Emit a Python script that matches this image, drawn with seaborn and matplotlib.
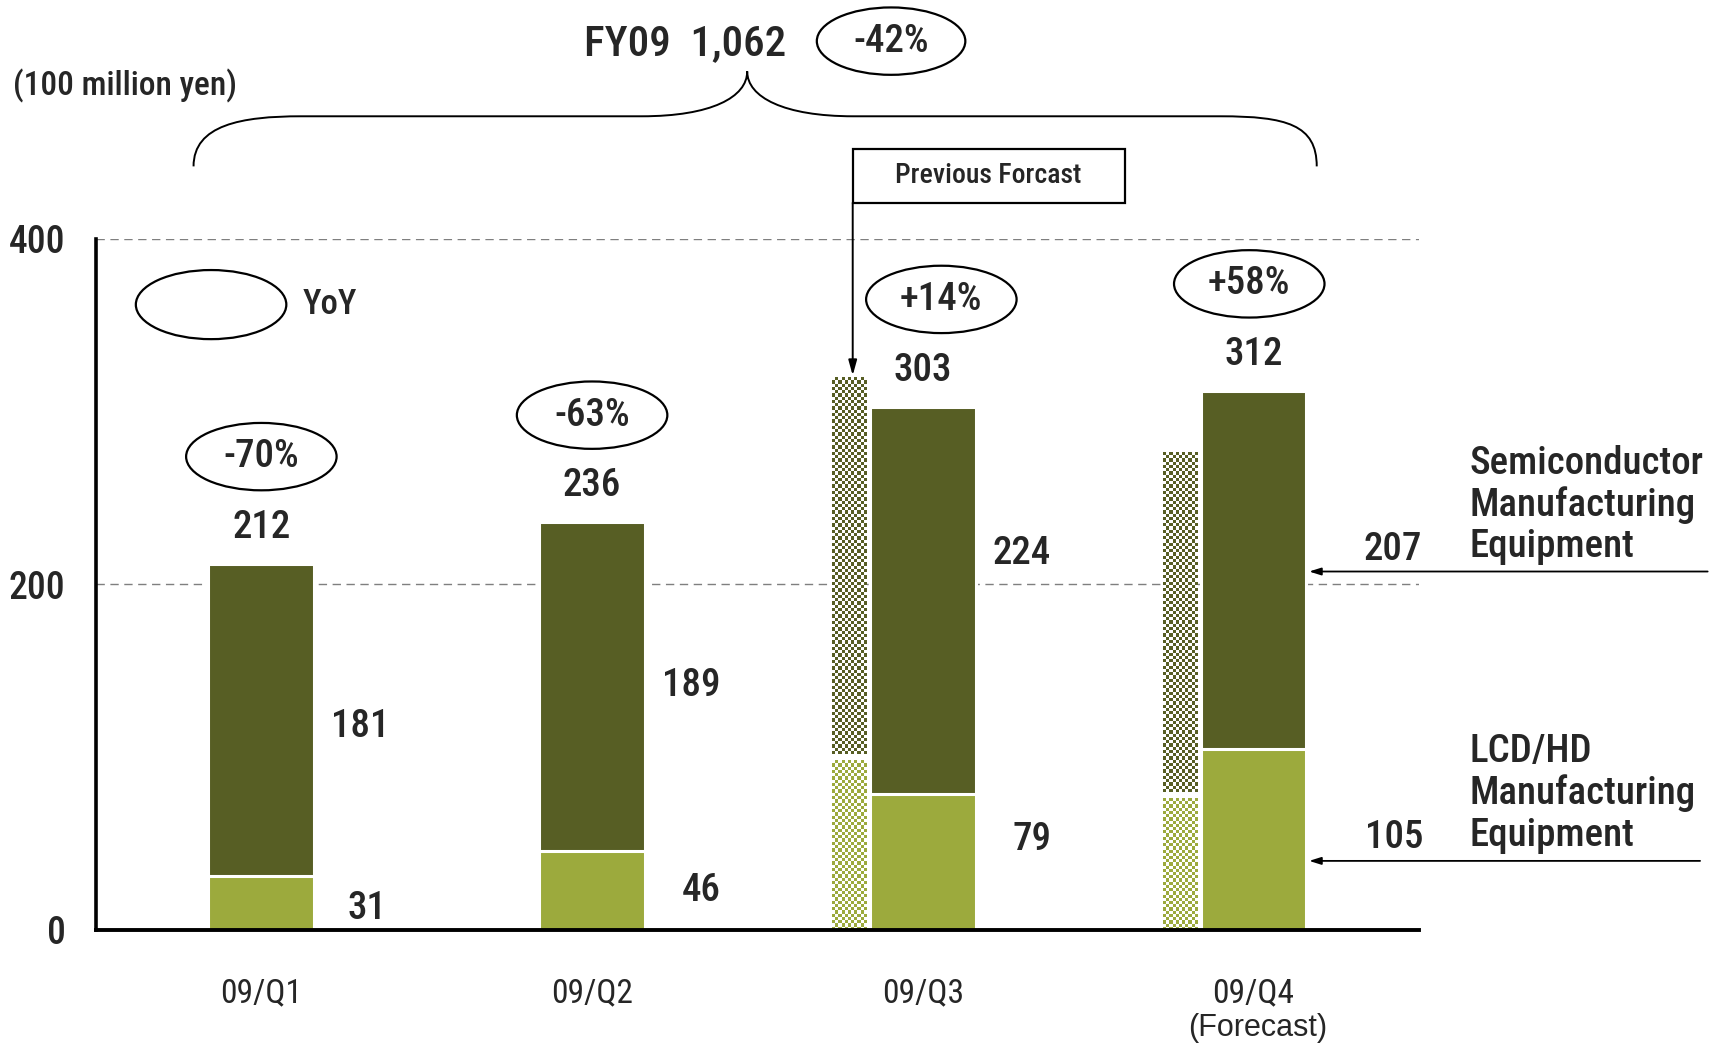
import numpy as np
import matplotlib
matplotlib.use("Agg")
import matplotlib.pyplot as plt
import seaborn as sns
from matplotlib.patches import Ellipse, Rectangle, PathPatch
from matplotlib.path import Path

# ---------------- data ----------------
quarters = ["09/Q1", "09/Q2", "09/Q3", "09/Q4"]
semi = [181, 189, 224, 207]
lcd = [31, 46, 79, 105]
totals = [212, 236, 303, 312]
yoy = ["-70%", "-63%", "+14%", "+58%"]
prev_idx = [2, 3]
prev_semi = [221, 200]
prev_lcd = [100, 78]
fy_total = "1,062"
fy_yoy = "-42%"
yticks = [0, 200, 400]

# ---------------- style ----------------
sns.set_style("white")
NARROW = ["Roboto Condensed", "PT Sans Narrow", "Archivo Narrow", "DejaVu Sans"]
plt.rcParams["font.family"] = NARROW
plt.rcParams["font.weight"] = 500
DARK = "#575E24"
LIGHT = "#9CAA3D"

fig = plt.figure(figsize=(17.11, 10.48), dpi=100)
ax = fig.add_axes([0.0561, 0.1126, 0.7732, 0.6594])

# main stacked bars
sns.barplot(x=quarters, y=totals, color=DARK, saturation=1, width=0.32,
            edgecolor="white", linewidth=2.2, ax=ax, zorder=2)
sns.barplot(x=quarters, y=lcd, color=LIGHT, saturation=1, width=0.32,
            edgecolor="white", linewidth=2.2, ax=ax, zorder=2)

ax.set_xlim(-0.5, 3.5)
ax.set_ylim(0, 400)

# previous forecast bars (checkered)
PREV_OFF = -0.222
PREV_W = 0.105
px = [i + PREV_OFF for i in prev_idx]
prev_total = [a + b for a, b in zip(prev_semi, prev_lcd)]
top_bars = ax.bar(px, prev_semi, bottom=prev_lcd, width=PREV_W,
                  color="none", edgecolor="none", zorder=2)
low_bars = ax.bar(px, prev_lcd, width=PREV_W, color="none",
                  edgecolor="none", zorder=2)


def checker(patch, color, cell=3.3):
    ext = patch.get_window_extent()
    nx = max(2, int(round(ext.width / cell)))
    ny = max(2, int(round(ext.height / cell)))
    rgb = np.array(matplotlib.colors.to_rgb(color))
    ii, jj = np.indices((ny, nx))
    mask = (ii + jj) % 2 == 0
    img = np.ones((ny, nx, 3))
    img[mask] = rgb
    x0 = patch.get_x()
    y0 = patch.get_y()
    w = patch.get_width()
    h = patch.get_height()
    gap = 1.6  # white separation between segments in data units
    ax.imshow(img, extent=(x0, x0 + w, y0 + (gap if y0 > 0 else 0), y0 + h - gap),
              interpolation="nearest", aspect="auto", zorder=2.1, origin="lower")


for p in top_bars.patches:
    checker(p, DARK)
for p in low_bars.patches:
    checker(p, LIGHT)

ax.set_xlim(-0.5, 3.5)
ax.set_ylim(0, 400)

# grid
for v in yticks[1:]:
    ax.axhline(v, color="#7f7f7f", lw=1.0, ls=(0, (6, 4)), zorder=0.5)

# spines & ticks
for s in ["top", "right"]:
    ax.spines[s].set_visible(False)
ax.spines["left"].set_linewidth(2.6)
ax.spines["bottom"].set_linewidth(2.8)
ax.spines["left"].set_color("black")
ax.spines["bottom"].set_color("black")
ax.set_yticks(yticks)
ax.set_yticklabels([str(v) for v in yticks], fontsize=27)
ax.tick_params(axis="y", direction="in", length=6, width=2.6, pad=22)
ax.set_xticks(range(len(quarters)))
ax.set_xticklabels(quarters, fontsize=24, fontweight="normal")
ax.tick_params(axis="x", which="major", length=0, pad=34)
ax.set_xticks([0.5, 1.5, 2.5, 3.5], minor=True)
ax.tick_params(axis="x", which="minor", direction="in", length=7, width=2)
ax.set_xlabel("")
ax.set_ylabel("")

# value labels
ELL_DX = [0.0, 0.0, 0.056, -0.013]
SEMI_DX = [0.30, 0.30, 0.30, 0.42]
SEMI_DY = [-4, 1, 27, 12]
LCD_DX = [0.32, 0.33, 0.33, 0.425]
LCD_DY = [-3, 0, 13, 1]
for i in range(len(quarters)):
    ax.text(i, totals[i] + 21, str(totals[i]), ha="center", va="center",
            fontsize=28, clip_on=False)
    ax.add_patch(Ellipse((i + ELL_DX[i], totals[i] + 62), 0.455, 39,
                         fill=False, ec="black", lw=1.6, clip_on=False))
    ax.text(i + ELL_DX[i], totals[i] + 62, yoy[i], ha="center", va="center",
            fontsize=28, clip_on=False)
    ax.text(i + SEMI_DX[i], lcd[i] + semi[i] / 2 + SEMI_DY[i], str(semi[i]),
            ha="center", va="center", fontsize=28, clip_on=False)
    ax.text(i + LCD_DX[i], lcd[i] / 2 + LCD_DY[i], str(lcd[i]),
            ha="center", va="center", fontsize=28, clip_on=False)

# YoY legend
ax.add_patch(Ellipse((-0.152, 362), 0.455, 40, fill=False, ec="black", lw=1.6))
ax.text(0.125, 362, "YoY", ha="left", va="center", fontsize=25)

# Previous forecast box + arrow
ax.add_patch(Rectangle((px[0] + 0.01, 421), 0.822, 31, fill=False, ec="black",
                       lw=1.6, clip_on=False))
ax.text(px[0] + 0.42, 436.5, "Previous Forcast", ha="center", va="center",
        fontsize=20, clip_on=False)
ax.annotate("", xy=(px[0] + 0.01, prev_total[0]), xytext=(px[0] + 0.01, 421),
            arrowprops=dict(arrowstyle="-|>,head_length=0.9,head_width=0.25",
                            color="black", lw=1.4, shrinkA=0, shrinkB=0),
            annotation_clip=False)

# right-hand legend texts and arrows
ax.text(3.653, 246, "Semiconductor\nManufacturing\nEquipment", ha="left",
        va="center", fontsize=28, linespacing=1.15, clip_on=False)
ax.text(3.653, 79, "LCD/HD\nManufacturing\nEquipment", ha="left",
        va="center", fontsize=28, linespacing=1.15, clip_on=False)
for y0, x0 in [(207.5, 4.373), (40, 4.35)]:
    ax.annotate("", xy=(3.168, y0), xytext=(x0, y0),
                arrowprops=dict(arrowstyle="-|>,head_length=0.7,head_width=0.22",
                                color="black", lw=1.3, shrinkA=0, shrinkB=0),
                annotation_clip=False)

# (Forecast) under Q4
ax.annotate("(Forecast)", xy=(3.013, -0.142), xycoords=("data", "axes fraction"),
            ha="center", va="center", fontsize=22, fontweight="normal",
            family=["Liberation Sans", "Arial", "DejaVu Sans"],
            annotation_clip=False)

# Header with brace
ax.text(1.28, 513, f"FY09  {fy_total}", ha="center", va="center",
        fontsize=31, clip_on=False)
ax.add_patch(Ellipse((1.904, 514.5), 0.449, 39, fill=False, ec="black",
                     lw=1.6, clip_on=False))
ax.text(1.904, 514.5, fy_yoy, ha="center", va="center", fontsize=28,
        clip_on=False)

verts = [(-0.205, 442), (-0.205, 466), (-0.06, 471), (0.12, 471),
         (1.15, 471),
         (1.36, 471), (1.469, 482), (1.469, 497),
         (1.469, 482), (1.58, 471), (1.79, 471),
         (2.90, 471),
         (3.10, 471), (3.191, 466), (3.191, 442)]
codes = [Path.MOVETO, Path.CURVE4, Path.CURVE4, Path.CURVE4,
         Path.LINETO,
         Path.CURVE4, Path.CURVE4, Path.CURVE4,
         Path.CURVE4, Path.CURVE4, Path.CURVE4,
         Path.LINETO,
         Path.CURVE4, Path.CURVE4, Path.CURVE4]
ax.add_patch(PathPatch(Path(verts, codes), fill=False, ec="black", lw=1.4,
                       clip_on=False))

fig.text(0.0076, 0.918, "(100 million yen)", ha="left", va="center", fontsize=24)

fig.savefig("out.png", dpi=100)
